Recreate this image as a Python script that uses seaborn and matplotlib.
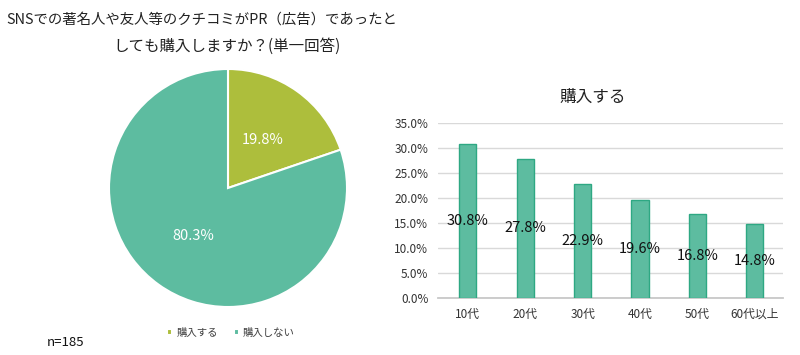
import matplotlib
matplotlib.use('Agg')
import matplotlib.pyplot as plt
import seaborn as sns
import pandas as pd

# pie data
pie_names = ["購入する", "購入しない"]
pie_values = [19.8, 80.3]

# bar data
ages = ["10代", "20代", "30代", "40代", "50代", "60代以上"]
buy_rates = [30.8, 27.8, 22.9, 19.6, 16.8, 14.8]

sns.set_style("white")
plt.rcParams['font.family'] = ['Noto Sans CJK JP', 'DejaVu Sans']

YELLOW = '#adbe3c'
TEAL = '#5dbca0'
TEAL_EDGE = '#2ea883'

W, H = 800, 355
fig = plt.figure(figsize=(8, 3.55), dpi=100)

# title, two lines
fig.text(202 / W, 1 - 20 / H, "SNSでの著名人や友人等のクチコミがPR（広告）であったと",
         ha='center', va='center', fontsize=10.4, color='#222222')
fig.text(227 / W, 1 - 46 / H, "しても購入しますか？(単一回答)",
         ha='center', va='center', fontsize=11.2, color='#222222')

# pie
r = 119
cx, cy = 228, 188
ax_pie = fig.add_axes([(cx - r) / W, 1 - (cy + r) / H, 2 * r / W, 2 * r / H])
wedges, texts = ax_pie.pie(pie_values, labels=[f"{v}%" for v in pie_values],
                           colors=[YELLOW, TEAL], startangle=90, counterclock=False,
                           labeldistance=0.5,
                           wedgeprops=dict(edgecolor='white', linewidth=1.5),
                           textprops=dict(color='white', fontsize=10.5, ha='center', va='center'))
ax_pie.set_xlim(-1, 1)
ax_pie.set_ylim(-1, 1)

# legend for pie
fig.legend(wedges, pie_names, loc='center', bbox_to_anchor=(231 / W, 1 - 333 / H),
           ncol=2, frameon=False, fontsize=7.5, handlelength=0.5, handleheight=0.5,
           handletextpad=0.4, columnspacing=1.5, labelcolor='#404040')

fig.text(47 / W, 1 - 342 / H, "n=185", ha='left', va='center', fontsize=9.5, color='#111111')

# bar chart
ax = fig.add_axes([438 / W, 1 - 298 / H, 345 / W, 175 / H])
df = pd.DataFrame({"age": ages, "rate": buy_rates})
sns.barplot(data=df, x="age", y="rate", color=TEAL, saturation=1, width=0.3,
            edgecolor=TEAL_EDGE, linewidth=1, ax=ax, zorder=3)
ax.bar_label(ax.containers[0], labels=[f"{v}%" for v in buy_rates], label_type='center',
             fontsize=10.5, color='#111111')
ax.set_ylim(0, 35)
ax.set_xlim(-0.52, 5.49)
ax.set_yticks([0, 5, 10, 15, 20, 25, 30, 35])
ax.set_yticklabels([f"{v:.1f}%" for v in [0, 5, 10, 15, 20, 25, 30, 35]])
ax.yaxis.grid(True, color='#d9d9d9', linewidth=1, zorder=0)
ax.set_axisbelow(True)
ax.set_xlabel("")
ax.set_ylabel("")
for s in ['top', 'right', 'left']:
    ax.spines[s].set_visible(False)
ax.spines['bottom'].set_color('#c8c8c8')
ax.spines['bottom'].set_linewidth(1.3)
ax.tick_params(axis='both', length=0, labelsize=8.5, labelcolor='#333333')
ax.tick_params(axis='x', pad=7)
ax.tick_params(axis='y', pad=7)

fig.text(593 / W, 1 - 97 / H, "購入する", ha='center', va='center', fontsize=12, color='#222222')

fig.savefig("out.png", dpi=100)
